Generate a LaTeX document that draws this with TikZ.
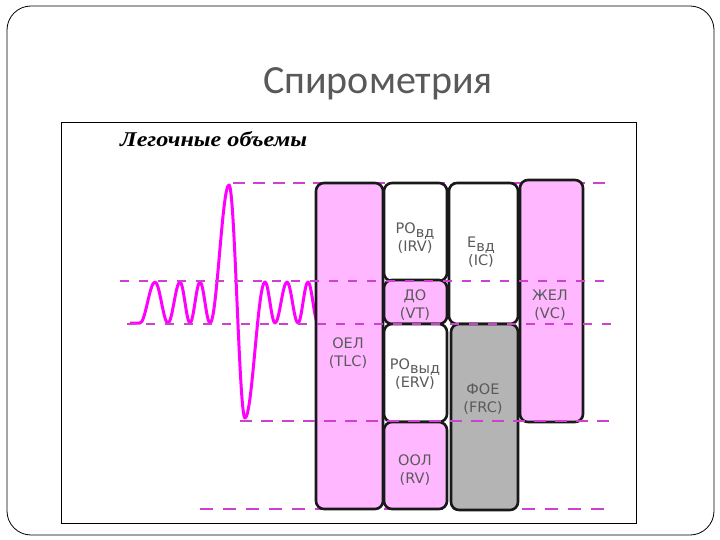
\documentclass[tikz,border=0pt]{standalone}
\usepackage{fontspec}
\setmainfont{Liberation Sans}
\newfontfamily\titlefont{Carlito}
\newfontfamily\serifit{Liberation Serif}
\newfontfamily\lblfont{DejaVu Sans}
\definecolor{pinkf}{HTML}{FFB8FF}
\definecolor{grayf}{HTML}{B4B4B4}
\definecolor{dashc}{HTML}{D040D0}
\definecolor{curvec}{HTML}{FF00FF}
\definecolor{titlec}{HTML}{595959}
\definecolor{lblc}{HTML}{5A5A5A}
\begin{document}
\begin{tikzpicture}[x=1pt,y=-1pt,
  vbox/.style={draw=black!90,line width=2.6pt,rounded corners=8pt,inner sep=0pt,outer sep=0pt},
  lbl/.style={font=\lblfont\fontsize{14.5}{17.5}\selectfont,text=lblc,align=center,inner sep=0pt},
  dl/.style={draw=dashc,dash pattern=on 12pt off 8pt}]
\useasboundingbox (0,0) rectangle (720,540);
% outer frame
\draw[line width=0.8pt,rounded corners=24pt] (7,6) rectangle (714,535);
\node[font=\titlefont\fontsize{40}{44}\selectfont,text=titlec] (title) at (378,84) {Спирометрия};
% inner image frame
\draw[line width=1pt] (61,123) rectangle (636,523);
\node[font=\serifit\itshape\bfseries\fontsize{21}{24}\selectfont,anchor=west,inner sep=0pt] (head) at (120,139) {\scalebox{1.15}[1]{Легочные объемы}};
% top/bottom dashed lines (behind boxes)
\draw[dl,line width=2.6pt] (233,183) -- (612,183);
\draw[dl,line width=2.6pt,dash pattern=on 13pt off 10pt] (200,509) -- (612,509);
% spirogram curve
\draw[curvec,line width=3pt,line join=round]
 (130,323) -- (140,323) cos (147.5,302.5) sin (155,282) cos (161.5,302.5) sin (168,323)
 cos (174,302.5) sin (180,282) cos (185,302.5) sin (190,323)
 cos (195,302.5) sin (200,282) cos (205,302.5) sin (210,323)
 cos (219.5,254) sin (229,185) cos (237,301.5) sin (245,418)
 cos (255,350) sin (265,282) cos (270,302.5) sin (275,323)
 cos (281,302.5) sin (287,282) cos (292.5,302.5) sin (298,323)
 cos (303,302.5) sin (308,282) cos (313,302.5) sin (318,323);
% boxes
\node[vbox,fill=pinkf,minimum width=67pt,minimum height=326pt] (oel) at (349.5,346) {};
\node[vbox,fill=white,minimum width=63pt,minimum height=98pt] (irv) at (415.5,232) {};
\node[vbox,fill=pinkf,minimum width=63pt,minimum height=44pt] (vt) at (415.5,302) {};
\node[vbox,fill=white,minimum width=63pt,minimum height=98pt] (erv) at (415.5,373) {};
\node[vbox,fill=pinkf,minimum width=63pt,minimum height=87pt] (rv) at (415.5,465.5) {};
\node[vbox,fill=white,minimum width=69pt,minimum height=141pt] (ic) at (483.5,253.5) {};
\node[vbox,fill=grayf,minimum width=67pt,minimum height=186pt] (frc) at (484.5,417) {};
\node[vbox,fill=pinkf,minimum width=63pt,minimum height=242pt] (vc) at (551.5,301) {};
% middle dashed lines (on top)
\draw[dl,line width=1.6pt,dash pattern=on 9pt off 10pt] (120,281) -- (612,281);
\draw[dl,line width=1.6pt,dash pattern=on 9pt off 10pt] (127,324) -- (612,324);
\draw[dl,line width=2.2pt,dash pattern=on 12pt off 9pt] (240,421) -- (612,421);
% labels
\node[lbl] (toel) at (348,353) {ОЕЛ\\(TLC)};
\node[lbl] (tirv) at (415,238) {РО\raisebox{-0.45ex}{вд}\\(IRV)};
\node[lbl] (tic) at (481,252) {Е\raisebox{-0.45ex}{вд}\\(IC)};
\node[lbl] (tvt) at (415,305) {ДО\\(VT)};
\node[lbl] (tvc) at (550,305) {ЖЕЛ\\(VC)};
\node[lbl] (terv) at (415,374) {РО\raisebox{-0.45ex}{выд}\\(ERV)};
\node[lbl] (tfrc) at (483,399) {ФОЕ\\(FRC)};
\node[lbl] (trv) at (415,470) {ООЛ\\(RV)};
\end{tikzpicture}
\end{document}
